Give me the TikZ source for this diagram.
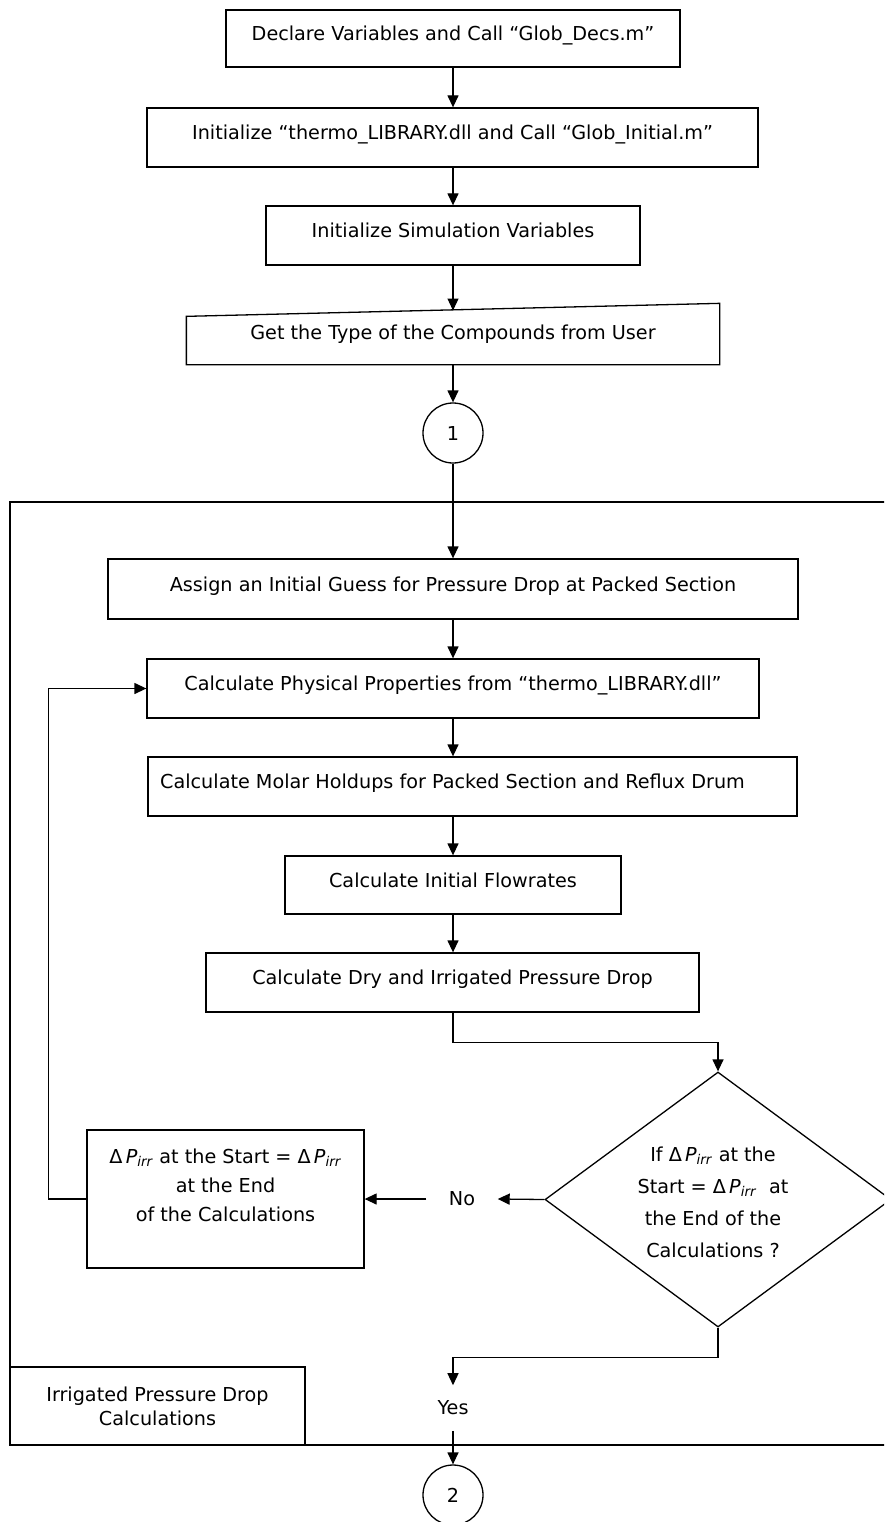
\documentclass[tikz,border=0pt]{standalone}
\usepackage{fontspec}
\setmainfont{DejaVu Sans}
\usetikzlibrary{arrows.meta,shapes.geometric,calc}
\newcommand{\dP}{Δ\,\textit{P}\textsubscript{\textit{irr}}}
\begin{document}
\begin{tikzpicture}[x=1pt,y=-1pt,
  font=\fontsize{19.2}{30}\selectfont,
  line width=1.3pt,
  box/.style={draw, rectangle, inner sep=0pt, text height=13.5pt, text depth=9pt},
  arr/.style={-{Triangle[length=12pt,width=11pt]}},
  conn/.style={draw, circle, minimum size=60pt, inner sep=0pt}]
\useasboundingbox (0,0) rectangle (884,1522);
\clip (0,0) rectangle (884,1522);
\fill[white] (0,0) rectangle (884,1522);

\node[box, minimum width=454pt, minimum height=57pt] (b1) at (453,38.5) {Declare Variables and Call “Glob\_Decs.m”};
\node[box, minimum width=611pt, minimum height=59pt] (b2) at (452.5,137.5) {Initialize “thermo\_LIBRARY.dll and Call “Glob\_Initial.m”};
\node[box, minimum width=374pt, minimum height=59pt] (b3) at (453,235.5) {Initialize Simulation Variables};
\node[inner sep=0pt, minimum width=532pt, minimum height=60pt] (b4) at (453,334) {Get the Type of the Compounds from User};
\draw (b4.south west) -- (b4.south east) -- (b4.north east) -- ($(b4.north west)+(0,13)$) -- cycle;
\coordinate (b4in) at (453,310.5);
\node[conn] (c1) at (453,433) {1};

\draw (894,502) -- (10,502) -- (10,1445) -- (894,1445);

\node[box, minimum width=690pt, minimum height=60pt] (as) at (453,589) {Assign an Initial Guess for Pressure Drop at Packed Section};
\node[box, minimum width=612pt, minimum height=59pt] (ph) at (453,688.5) {Calculate Physical Properties from “thermo\_LIBRARY.dll”};
\node[box, minimum width=649pt, minimum height=59pt] (mo) at (472.5,786.5) {Calculate Molar Holdups for Packed Section and Reflux Drum\hspace*{40pt}};
\node[box, minimum width=336pt, minimum height=58pt] (fl) at (453,885) {Calculate Initial Flowrates};
\node[box, minimum width=493pt, minimum height=59pt] (dr) at (452.5,982.5) {Calculate Dry and Irrigated Pressure Drop};

\node[draw, diamond, minimum width=346pt, minimum height=255pt, inner sep=0pt,
  label={[align=center, xshift=-5pt, yshift=-3pt, font=\fontsize{19.2}{32}\selectfont]center:{If \dP{} at the\\Start = \dP\ \ at\\the End of the\\Calculations ?}}] (di) at (718,1199.5) {};

\node[draw, rectangle, inner sep=0pt, minimum width=277pt, minimum height=138pt,
  label={[align=center, yshift=14pt, font=\fontsize{19.2}{29}\selectfont]center:{\dP{} at the Start = \dP\\at the End\\of the Calculations}}] (dp) at (225.5,1199) {};

\node[inner xsep=22pt] (no) at (462,1199) {No};
\node[inner ysep=15pt, inner xsep=2pt] (yes) at (453,1408) {Yes};
\node[draw, rectangle, minimum width=295pt, minimum height=78pt, align=center, font=\fontsize{19.2}{24}\selectfont] (ir) at (157.5,1406) {Irrigated Pressure Drop\\Calculations};
\node[conn] (c2) at (453,1495) {2};

\draw[arr] (b1.south) -- (b1.south |- b2.north);
\draw[arr] (b2.south -| c1) -- (b3.north -| c1);
\draw[arr] (b3.south -| c1) -- (b4in);
\draw[arr] (b4.south -| c1) -- (c1.north);
\draw[arr] (c1.south) -- (as.north -| c1);
\draw[arr] (as.south -| c1) -- (ph.north -| c1);
\draw[arr] (ph.south -| c1) -- (mo.north -| c1);
\draw[arr] (mo.south -| c1) -- (fl.north -| c1);
\draw[arr] (fl.south -| c1) -- (dr.north -| c1);
\draw[arr] (dr.south -| c1) -- ++(0,30) -| (di.north);
\draw[arr] (di.west) -- (no.east);
\draw[arr] (no.west) -- (dp.east);
\draw[arr] (dp.west) -- ++(-38,0) |- (ph.west);
\draw[arr] (di.south) -- ++(0,30) -| (yes.north);
\draw[arr] (yes.south) -- (c2.north);
\end{tikzpicture}
\end{document}
